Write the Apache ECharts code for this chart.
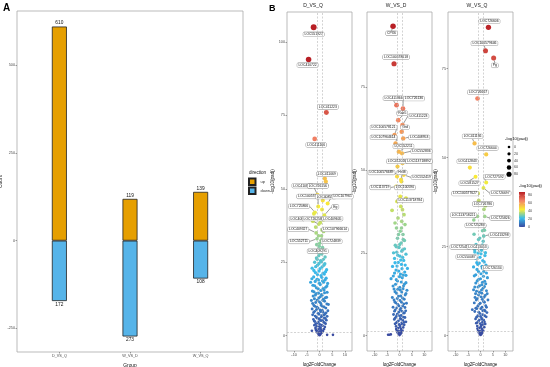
<!DOCTYPE html>
<html><head><meta charset="utf-8">
<script src="https://cdn.jsdelivr.net/npm/echarts@6/dist/echarts.min.js"></script>
<style>html,body{margin:0;padding:0;background:#fff}#c{width:550px;height:367px}</style>
</head><body><div id="c"></div>
<script>
// ---------------- data ----------------
const barCategories = ['D_VS_Q', 'W_VS_D', 'W_VS_Q'];
const upCounts = [610, 119, 139];
const downCounts = [172, 273, 108];
const countTicks = [-250, 0, 250, 500];
const directionNames = ['up', 'down'];

const panelNames = ['D_VS_Q', 'W_VS_D', 'W_VS_Q'];
const fcTicks = [-10, -5, 0, 5, 10];
const padjTicks1 = [0, 25, 50, 75, 100];
const padjTicks2 = [0, 25, 50, 75];
const padjTicks3 = [0, 25, 50, 75];
const fcCutoffs = [-1, 1];
const padjCutoff = 1.3;
const sizeLegendValues = [0, 20, 40, 60, 80];
const colorLegendValues = [0, 20, 40, 60, 80];

// [log2FoldChange, -log10(padj)]
const dvqPoints = [
[0,0.2],[0.3,0.4],[-0.3,0.5],[0.6,0.8],[-0.6,0.9],[1,1.1],[-1,1.2],[0.2,1.5],[1.4,1.6],[-1.3,1.8],[0.8,2],[-0.5,2.2],[1.8,2.3],[-1.6,2.6],[0.4,2.8],[2.1,3],[-1.1,3.2],[1.2,3.4],[-2,3.6],[0.1,3.9],[2.4,4.1],[-0.8,4.3],[1.6,4.6],[-1.8,4.8],[0.6,5.1],[2.7,5.3],[-2.4,5.6],[-0.2,5.8],[1.9,6],
[-1.2,6.3],[3,6.6],[0.9,6.8],[-2.7,7.1],[2.2,7.4],[-0.6,7.6],[1.4,8],[-1.9,8.3],[3.3,8.5],[0.2,8.8],[-2.9,9.1],[2.5,9.4],[-1,9.7],[1.1,10],[-2.2,10.3],[3.5,10.6],[0.5,11],[-1.5,11.3],[2,11.7],[-3.2,12],[1.5,12.4],[-0.3,12.8],[2.8,13.1],[-2.5,13.5],
[0.8,14],[-1.3,14.4],[3,14.8],[-2.8,15.2],[1.8,15.6],[-0.5,16],[2.4,16.5],[-1.9,17],[0.3,17.4],[3.2,17.8],[-3.5,18.2],[1.2,18.7],[-1,19.2],[2.6,19.6],[-2.3,20],[0.6,20.5],[1.9,21],[-1.6,21.5],[-0.2,22],
[2.8,22.5],[-2.9,23],[1,23.4],[-0.8,24],[2.1,24.5],[-1.9,25],[0.4,25.5],[1.5,26],[-1.2,26.5],[-0.3,27.2],[0.9,27.8],[-0.7,28.5],[0.2,29.2],[1.2,30],[-1.1,31],
[0.6,32.5],[-0.4,34],[1.6,35.5],[-1.5,37],[0.3,38.5],[2.3,40],[-2.2,41.5],[1.0,43],
[3,0.3],[5.3,0.3],[-3,1.7],
[-0.2,0.8],[0.5,1.2],[-0.8,1.5],[1.1,1.9],[-1.4,2.1],[0.3,2.4],[-0.1,3.1],[0.9,3.6],[-1.5,4.0],[2.0,4.4],[-0.4,4.7],[1.2,5.2],[-2.1,5.0],[0.1,5.5],[2.3,5.9],[-1.0,6.0],[0.7,6.4],[-1.7,6.7],[1.7,7.0],[-0.2,7.3],[2.6,7.8],[-2.3,7.9],[0.4,8.2],[1.1,8.6],[-1.2,8.9],[-0.6,9.4],[1.8,9.8],[-1.8,10.0],[0.7,10.4],[2.9,10.8],[-2.7,11.0],[0.0,11.5],[1.3,12.0],[-0.9,12.1],[-2.0,12.6],[2.3,12.9],[0.3,13.3],[1.0,13.8],[-1.6,13.9],[-0.4,14.5],[2.0,14.6],[-2.2,15.0],[0.5,15.4],[1.4,16.1],[-1.2,16.3],[2.9,16.9],[-2.6,17.2],[0.0,17.9],[1.6,18.2],[-1.7,18.5],[-0.4,19.0],[2.2,19.0],[-3.0,19.4],[0.9,19.9],[-0.8,20.8],[1.4,21.3],[2.4,21.8],[-2.2,22.2],[0.2,22.8],[-1.5,23.5],[1.7,24.0],[-0.2,24.6],[0.8,25.2],[-0.9,26.0],[2.2,26.8],[0.4,28.0],[-0.1,30.5]
];
// [gene, log2FoldChange, -log10(padj)]
const dvqGenes = [
['LOC551927',-2.3,105],['LOC410722',-4.3,94],['LOC411223',2.7,76],['LOC411166',-1.9,67],['LOC411069',2.1,53.5],
['LOC410869',-0.8,48],['LOC726156',2.5,52.5],['LOC100578',-0.5,44],['LOC408558',1.3,46],['LOC107961',3.2,45],
['LOC725866',-1.8,42],['Eg',1.9,41],['LOC408',-2.6,39],['LOC726258',-0.3,38],['LOC409605',1.5,39.5],
['LOC409327',-1.3,35],['LOC107966614',1.0,36],['LOC552711',-1.0,33],['LOC724839',0.8,34],['LOC409291',0.1,31.5]
];

const wvdPoints = [
[0,0.2],[0.4,0.5],[-0.4,0.6],[0.8,0.9],[-0.8,1],[0.2,1.3],[1.2,1.5],[-1.1,1.7],[0.6,2],[-0.5,2.3],[1.5,2.5],[-1.4,2.8],[0.1,3.1],[1.9,3.3],[-1.8,3.6],[0.9,3.9],[-0.9,4.2],[2.6,4.2],[1.4,4.6],[-2.1,4.9],[0.3,5.2],[2.2,5.5],[-1.3,5.8],[0.7,6.1],[-2.4,6.4],[1.7,6.8],[-0.3,7.1],[2.5,7.5],[-1.7,7.8],
[0.5,8.2],[-2.6,8.6],[1.3,9],[-0.7,9.4],[2.8,9.8],[-1.9,10.2],[0.2,10.6],[1.9,11],[-2.9,11.5],[-0.4,11.9],[2.3,12.3],[-1.2,12.8],[0.9,13.2],[3.0,13.7],[-2.2,14.1],[0.1,14.6],[1.6,15],[-1.6,15.5],[2.6,16],[-0.8,16.5],[-3.4,17.2],[1.1,17.5],[-2.5,18],
[0.4,18.6],[2.1,19.2],[-1.4,19.8],[3.2,20.3],[-2.8,20.9],[0.8,21.5],[-0.5,22.1],[1.7,22.7],[-2,23.3],[0.2,24],[2.6,24.6],[-1.1,25.2],[1.2,25.9],[-0.2,26.6],[-1.7,27.3],[0.7,28],[2,28.7],[-0.8,29.4],
[1.4,30.5],[0.3,31.5],[-1.2,32.5],[2.2,33.5],[0.9,34.5],[-0.6,35.5],[1.8,36.5],[-3.0,37.8],[0.5,39],[-1.0,40.5],[2.6,41.5],
[-4.6,0.3],[-4.1,0.3],[-3.5,0.4],
[-0.2,0.9],[0.6,1.2],[-0.7,1.5],[1.0,1.8],[-1.3,2.0],[0.3,2.6],[-0.1,3.4],[1.1,3.5],[-1.3,3.9],[1.8,4.0],[-0.4,4.5],[0.6,5.0],[-1.8,5.3],[1.6,5.6],[0.0,6.0],[-0.9,6.5],[2.0,6.9],[1.0,7.4],[-2.0,7.4],[0.2,7.8],[-1.1,8.4],[2.2,8.5],[-0.2,9.0],[1.7,9.6],[-1.5,9.9],[0.8,10.1],[-2.2,10.8],[1.2,11.4],[-0.9,11.2],[0.5,12.0],[2.6,12.7],[-1.8,13.3],[0.3,13.8],[1.4,14.2],[-0.7,14.0],[-2.6,15.0],[2.0,15.6],[0.7,16.2],[-1.3,16.9],[0.0,17.8],[1.5,18.3],[-2.0,18.9],[2.6,18.2],[-0.3,19.5],[1.0,20.2],[-1.0,21.0],[2.3,21.3],[-1.8,22.0],[0.5,22.8],[1.3,23.6],[-0.7,24.3],[-2.4,25.0],[0.9,25.5],[2.0,26.2],[-1.3,26.8],[0.1,27.5],[1.5,29.0],[-0.4,30.5],[0.8,32.5],[-1.8,34.0],[1.2,38.0]
];
const wvdGenes = [
['CPX6',-2.6,93.3],['LOC100578618',-2.2,82],['LOC411866',-1.2,69.5],['LOC726136',1.4,68.5],['Rab5',-0.5,65],
['LOC411223',1.2,63.5],['LOC100578121',-2.0,60.5],['Grd',0.9,61.5],['LOC107964614',-1.6,58],['LOC408953',1.5,59.5],
['LOC552211',-0.3,55.5],['LOC552836',1.0,55],['LOC412026',-0.8,51],['LOC113718892',1.2,52],['LOC100576689',-1.0,48],
['Hr38',0.6,47],['LOC552419',1.7,48.5],['LOC113719',-1.3,45],['LOC100590',0.8,46.5],['LOC113718784',0.3,42]
];

const wvqPoints = [
[0,0.2],[0.3,0.4],[-0.3,0.5],[0.7,0.8],[-0.7,0.9],[0.1,1.2],[1.1,1.4],[-1,1.6],[0.5,1.9],[-0.4,2.2],[1.5,2.4],[-1.3,2.7],[0.2,3],[1.9,3.3],[-1.7,3.5],[0.8,3.8],[-0.8,4.1],[1.3,4.4],[-2,4.7],[0.4,5],[2.3,5.3],[-1.1,5.6],[0.9,5.9],
[-0.2,6.2],[2.6,6.5],[-2.3,6.8],[-3.3,7.3],[1.6,7.2],[-1.5,7.6],[0.6,8],[2.1,8.4],[-0.6,8.8],[-2.5,9.2],[1.2,9.6],[3,10],[-1.3,10.4],[0.2,10.9],[1.9,11.3],[-2,11.8],[-0.4,12.2],[2.4,12.6],[-2.8,12.9],[1,13.3],[-1,13.7],
[0.5,14.3],[-1.9,14.8],[1.7,15.3],[-0.8,15.8],[2.8,16.3],[-2.5,16.8],[0.2,17.4],[1.3,18],[-1.4,18.6],[-2.8,19.3],[2.2,19.8],[-0.5,20.4],[0.9,21.1],[-2,21.8],[1.8,22.5],[-1,23.2],[0.4,24],[2.5,24.8],[-1.8,25.6],[1.1,26.5],[-0.3,27.4],[-2.6,28.5],[1.6,29.6],[0.1,31],[-1.2,33.5],[2.0,36.5],[-0.7,38],
[-0.2,0.8],[0.5,1.0],[-0.6,1.3],[0.9,1.7],[-1.2,2.0],[0.2,2.5],[-0.1,3.4],[1.0,3.1],[-1.3,3.7],[1.6,3.9],[-0.5,4.4],[0.6,4.6],[-1.6,5.2],[1.7,5.6],[0.0,5.4],[-0.7,6.6],[1.9,6.9],[0.9,7.0],[-1.9,7.7],[0.1,7.6],[-1.1,8.3],[2.4,8.0],[-0.1,9.1],[1.6,9.4],[-1.7,10.0],[0.7,10.2],[-2.2,10.7],[1.4,10.8],[-0.8,11.4],[0.5,11.9],[2.7,11.8],[-1.6,12.5],[0.4,12.8],[1.6,13.8],[-0.4,14.0],[-2.3,13.7],[2.1,14.6],[0.8,15.0],[-1.3,15.4],[0.0,16.0],[1.2,16.7],[-1.9,17.1],[2.4,17.6],[-0.8,18.0],[0.7,19.0],[-1.1,20.0],[1.5,20.7],[-0.2,22.0],[2.0,23.3],[-2.3,24.2],[0.8,25.5],[-0.8,27.0],[1.3,28.0]
];
const wvqGenes = [
['LOC726606',3.2,86.6],['LOC100579646',2.0,80],['Pg',5.3,78],['LOC726667',-1.2,66.6],['LOC411166',-2.4,54],
['LOC726604',2.3,50.9],['LOC412843',-4.3,47.2],['LOC727592',2.3,43],['LOC581527',-2.0,44.6],['LOC100577627',-1.0,40],
['LOC726697',1.2,41.5],['LOC726786',1.4,35.5],['LOC113718221',-2.7,32.5],['LOC725826',1.7,33.5],['LOC725288',0.8,29.5],
['LOC413298',1.3,28],['LOC725453',-2.3,23.5],['LOC413053',0.2,23],['LOC550087',-1.5,20.5],['LOC726134',0.6,19.5]
];

// ---------------- layout (label offsets in px, not data) ----------------
const dvqLabelOffsets = [[0,7],[-1,5.5],[1.5,-5.5],[1.5,6],[2,-4.5],[-15,-9],[-8,4.5],[-11,-10],[3,-4],[15,-7],[-16,-6],[11,-8.5],[-16,-2.5],[-6,-5.5],[9,-1],[-18,-3.5],[13,-0.5],[-18,2.7],[10,5.5],[-2,8]];
const wvdLabelOffsets = [[-1.5,7],[2,-6.6],[-3,-7],[11,-10],[4,-7],[16,-9],[-11,-7.7],[3.3,-4.4],[-12,-6],[16,-1],[4.7,-5.3],[19.5,-2],[-0.5,-5.2],[16.5,-2],[-15.5,-4],[1,-7.4],[18,2.5],[-16,1],[3.5,6],[10,4]];
const wvqLabelOffsets = [[1,-6],[-1,-7.4],[1.2,7.5],[0.5,-6.2],[-2,-7],[1.3,-6.3],[-2.3,-6.3],[8.3,-5.7],[-6,6.3],[-13,0.3],[17,5.2],[-1,-5.3],[-10.3,-5],[15.7,1.6],[-7,-5.2],[15.7,-1],[-14.3,-5],[-3.5,-6.9],[-10.3,-5.8],[10.5,1.6]];

const palette = ['#39489f', '#39bbec', '#f9ed36', '#f38466', '#b81f25'];
const colorMax = 88;
const FONT = 'Liberation Sans, Arial, sans-serif';
const sizeFn = v => 2.6 + Math.min(v, 105) / 32;

const volGrids = [
  {left: 287, top: 12, width: 65, height: 339},
  {left: 367, top: 12, width: 65, height: 339},
  {left: 448, top: 12, width: 65, height: 339}
];
const volX = [[-12.8, 12.8], [-13.1, 13.1], [-13.1, 13.1]];
const volY = [[-5.2, 110.2], [-4.6, 97.6], [-4.3, 90.9]];
const volYTicks = [padjTicks1, padjTicks2, padjTicks3];
const volNameGap = [10, 9, 8.5];

const tickLabel = {fontSize: 3.8, color: '#4d4d4d', fontFamily: FONT, margin: 2};
const tick = {show: true, length: 1.5, lineStyle: {color: '#444', width: 0.5}};

const grids = [{left: 17, top: 11, width: 226, height: 341}].concat(volGrids).map(g => Object.assign({
  show: true, borderColor: '#aaa', borderWidth: 0.8, backgroundColor: '#fff', containLabel: false, outerBoundsMode: 'none'
}, g));

const xAxes = [{
  type: 'value', gridIndex: 0, min: 0.4, max: 3.6, splitLine: {show: false},
  axisLine: {show: false, onZero: false},
  axisTick: Object.assign({customValues: [1, 2, 3]}, tick),
  axisLabel: Object.assign({customValues: [1, 2, 3], formatter: v => barCategories[Math.round(v) - 1]}, tickLabel),
  name: 'Group', nameLocation: 'middle', nameGap: 9,
  nameTextStyle: {fontSize: 4.8, color: '#111', fontFamily: FONT}
}];
const yAxes = [{
  type: 'value', gridIndex: 0, min: -317.2, max: 654.2, splitLine: {show: false},
  axisLine: {show: false, onZero: false},
  axisTick: Object.assign({customValues: countTicks}, tick),
  axisLabel: Object.assign({customValues: countTicks}, tickLabel),
  name: 'Count', nameLocation: 'middle', nameGap: 9, nameRotate: 90,
  nameTextStyle: {fontSize: 4.8, color: '#111', fontFamily: FONT}
}];
for (let i = 0; i < 3; i++) {
  xAxes.push({
    type: 'value', gridIndex: i + 1, min: volX[i][0], max: volX[i][1], splitLine: {show: false},
    axisLine: {show: false, onZero: false},
    axisTick: Object.assign({customValues: fcTicks}, tick),
    axisLabel: Object.assign({customValues: fcTicks}, tickLabel),
    name: 'log2FoldChange', nameLocation: 'middle', nameGap: 9,
    nameTextStyle: {fontSize: 4.6, color: '#111', fontFamily: FONT}
  });
  yAxes.push({
    type: 'value', gridIndex: i + 1, min: volY[i][0], max: volY[i][1], splitLine: {show: false},
    axisLine: {show: false, onZero: false},
    axisTick: Object.assign({customValues: volYTicks[i]}, tick),
    axisLabel: Object.assign({customValues: volYTicks[i]}, tickLabel),
    name: '-log10(padj)', nameLocation: 'middle', nameGap: volNameGap[i], nameRotate: 90,
    nameTextStyle: {fontSize: 4.6, color: '#111', fontFamily: FONT}
  });
}

const series = [
  {
    name: 'up', type: 'bar', xAxisIndex: 0, yAxisIndex: 0, stack: 'dir', barWidth: 15,
    data: upCounts.map((v, i) => [i + 1, v]),
    itemStyle: {color: '#E69F00', borderColor: '#222', borderWidth: 0.8},
    label: {show: true, position: 'top', distance: 1, fontSize: 4.8, color: '#111', fontFamily: FONT, formatter: p => String(p.value[1])}
  },
  {
    name: 'down', type: 'bar', xAxisIndex: 0, yAxisIndex: 0, stack: 'dir', barWidth: 15,
    data: downCounts.map((v, i) => [i + 1, -v]),
    itemStyle: {color: '#56B4E9', borderColor: '#222', borderWidth: 0.8},
    label: {show: true, position: 'bottom', distance: 1, fontSize: 4.8, color: '#111', fontFamily: FONT, formatter: p => String(-p.value[1])}
  }
];

const allPts = [dvqPoints, wvdPoints, wvqPoints];
const allGenes = [dvqGenes, wvdGenes, wvqGenes];
const allOffs = [dvqLabelOffsets, wvdLabelOffsets, wvqLabelOffsets];
for (let i = 0; i < 3; i++) {
  const pts = allPts[i].slice().sort((a, b) => a[1] - b[1]);
  series.push({
    type: 'scatter', xAxisIndex: i + 1, yAxisIndex: i + 1, silent: true,
    data: pts, symbolSize: v => sizeFn(v[1]), itemStyle: {opacity: 1},
    markLine: {
      silent: true, symbol: ['none', 'none'], label: {show: false},
      lineStyle: {type: [2, 1.5], color: '#b5b5b5', width: 0.6},
      data: fcCutoffs.map(c => ({xAxis: c})).concat([{yAxis: padjCutoff}])
    }
  });
  const offs = allOffs[i];
  series.push({
    type: 'scatter', xAxisIndex: i + 1, yAxisIndex: i + 1, silent: true,
    data: allGenes[i].map((g, j) => ({
      name: g[0], value: [g[1], g[2]],
      labelLine: {show: Math.hypot(offs[j][0], offs[j][1]) > 7}
    })),
    symbolSize: v => sizeFn(v[1]), itemStyle: {opacity: 1},
    label: {
      show: true, position: 'inside', formatter: '{b}', fontSize: 3.4, color: '#111', fontFamily: FONT,
      backgroundColor: '#fff', borderColor: '#777', borderWidth: 0.4, borderRadius: 1, padding: [0.8, 1.2, 0.4, 1.2]
    },
    labelLine: {show: true, lineStyle: {color: '#222', width: 0.45}},
    labelLayout: p => ({dx: offs[p.dataIndex][0], dy: offs[p.dataIndex][1]})
  });
}

// ---------------- graphic (titles, legends) ----------------
const graphic = [
  {type: 'text', left: 3, top: 3, style: {text: 'A', fontSize: 10, fontWeight: 'bold', fill: '#000', fontFamily: FONT}},
  {type: 'text', left: 269, top: 4, style: {text: 'B', fontSize: 9, fontWeight: 'bold', fill: '#000', fontFamily: FONT}},
  {type: 'text', left: 249, top: 170.5, style: {text: 'direction', fontSize: 4.5, fill: '#111', fontFamily: FONT}}
];
const titleX = [313, 396, 477];
panelNames.forEach((n, i) => graphic.push({
  type: 'text', x: titleX[i], y: 6, style: {text: n, fontSize: 5, fill: '#222', fontFamily: FONT, align: 'center', verticalAlign: 'middle'}
}));
// size legend
graphic.push({type: 'text', x: 505, y: 139, style: {text: '-log10(padj)', fontSize: 4.3, fill: '#111', fontFamily: FONT, verticalAlign: 'middle'}});
sizeLegendValues.forEach((v, i) => {
  const cy = 147 + i * 6.8;
  graphic.push({type: 'circle', shape: {cx: 509, cy: cy, r: sizeFn(v) / 2}, style: {fill: '#000'}});
  graphic.push({type: 'text', x: 514, y: cy, style: {text: String(v), fontSize: 3.8, fill: '#4d4d4d', fontFamily: FONT, verticalAlign: 'middle'}});
});
// colour bar legend
const cbTop = 192, cbH = 35, cbX = 519, cbW = 6;
graphic.push({type: 'text', x: 519, y: 186, style: {text: '-log10(padj)', fontSize: 4.3, fill: '#111', fontFamily: FONT, verticalAlign: 'middle'}});
graphic.push({type: 'rect', shape: {x: cbX, y: cbTop, width: cbW, height: cbH}, style: {
  fill: new echarts.graphic.LinearGradient(0, 1, 0, 0, palette.map((c, i) => ({offset: i / (palette.length - 1), color: c})))
}});
colorLegendValues.forEach(v => {
  const cy = cbTop + cbH - v / colorMax * cbH;
  graphic.push({type: 'line', shape: {x1: cbX, y1: cy, x2: cbX + 1.2, y2: cy}, style: {stroke: '#fff', lineWidth: 0.4}});
  graphic.push({type: 'line', shape: {x1: cbX + cbW - 1.2, y1: cy, x2: cbX + cbW, y2: cy}, style: {stroke: '#fff', lineWidth: 0.4}});
  graphic.push({type: 'text', x: 528, y: cy, style: {text: String(v), fontSize: 3.8, fill: '#4d4d4d', fontFamily: FONT, verticalAlign: 'middle'}});
});

const chart = echarts.init(document.getElementById('c'), null, {renderer: 'canvas', width: 550, height: 367});
chart.setOption({
  animation: false,
  backgroundColor: '#fff',
  textStyle: {fontFamily: FONT},
  grid: grids,
  xAxis: xAxes,
  yAxis: yAxes,
  legend: {
    data: directionNames, orient: 'vertical', left: 248, top: 177.5, itemWidth: 6.5, itemHeight: 6.5, itemGap: 0.6,
    icon: 'rect', selectedMode: false, padding: 0,
    textStyle: {fontSize: 4, color: '#333', fontFamily: FONT}
  },
  visualMap: {
    type: 'continuous', show: false, dimension: 1, min: 0, max: colorMax,
    seriesIndex: [2, 3, 4, 5, 6, 7], inRange: {color: palette}
  },
  series: series,
  graphic: graphic
});
</script></body></html>
